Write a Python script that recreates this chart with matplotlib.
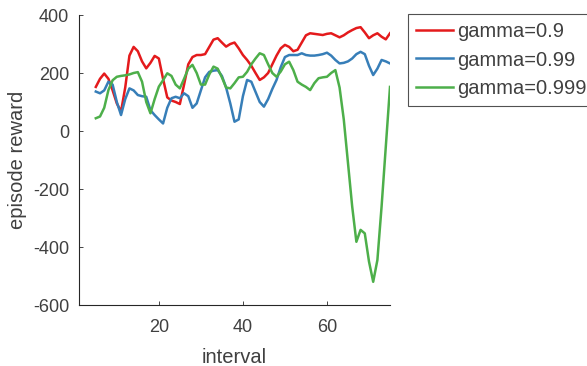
import matplotlib.pyplot as plt

plt.rcParams['font.family'] = ['Liberation Sans', 'DejaVu Sans']
plt.rcParams['axes.unicode_minus'] = False

interval = list(range(5, 76))

# episode reward for each discount factor
reward_09 = [152, 180, 198, 180, 140, 95, 67, 150, 260, 290,
             275, 240, 216, 235, 259, 250, 180, 116, 105, 100,
             93, 160, 230, 255, 262, 262, 265, 290, 315, 320,
             305, 291, 300, 305, 285, 262, 245, 225, 200, 176,
             185, 200, 230, 260, 285, 297, 290, 275, 280, 305,
             330, 337, 335, 333, 331, 335, 337, 330, 323, 330,
             340, 348, 355, 358, 340, 320, 330, 337, 325, 316,
             337]
reward_099 = [136, 130, 140, 170, 160, 100, 55, 110, 147, 140,
              124, 120, 118, 72, 55, 40, 26, 80, 113, 118,
              113, 130, 120, 80, 95, 140, 185, 204, 208, 210,
              190, 150, 95, 32, 40, 120, 176, 170, 135, 100,
              84, 110, 145, 176, 220, 255, 262, 262, 262, 268,
              262, 260, 260, 262, 265, 270, 260, 245, 233, 235,
              240, 250, 265, 273, 265, 225, 193, 215, 245, 240,
              233]
reward_0999 = [44, 50, 80, 141, 175, 187, 190, 192, 195, 200,
               203, 170, 100, 61, 110, 153, 175, 199, 190, 160,
               147, 180, 215, 228, 200, 160, 160, 195, 222, 215,
               185, 150, 147, 165, 185, 187, 204, 230, 250, 268,
               262, 230, 200, 187, 205, 230, 239, 210, 170, 160,
               152, 141, 165, 182, 185, 187, 200, 210, 150, 40,
               -110, -260, -382, -341, -353, -450, -520, -445, -260, -54,
               152]
labels = ['gamma=0.9', 'gamma=0.99', 'gamma=0.999']

txt = '#404040'

fig = plt.figure(figsize=(5.87, 3.66), dpi=100)
ax = fig.add_axes([79 / 587, 61 / 366, 311 / 587, 290 / 366])

ax.plot(interval, reward_09, color='#E41A1C', lw=1.8, label=labels[0])
ax.plot(interval, reward_099, color='#377EB8', lw=1.8, label=labels[1])
ax.plot(interval, reward_0999, color='#4DAF4A', lw=1.8, label=labels[2])

ax.set_xlim(1, 75)
ax.set_ylim(-600, 400)
ax.set_xticks([20, 40, 60])
ax.set_yticks([-600, -400, -200, 0, 200, 400])

for side in ['top', 'right']:
    ax.spines[side].set_visible(False)
for side in ['left', 'bottom']:
    ax.spines[side].set_color('#262626')
    ax.spines[side].set_linewidth(0.8)
ax.tick_params(direction='in', length=3, width=0.6, colors='#262626',
               labelsize=13, labelcolor=txt)
ax.tick_params(axis='y', pad=7)
ax.tick_params(axis='x', pad=10)

ax.set_xlabel('interval', fontsize=14.5, color=txt, labelpad=9)
ax.set_ylabel('episode reward', fontsize=14.5, color=txt, labelpad=4)

leg = fig.legend(loc='upper left', bbox_to_anchor=(408 / 587, 1 - 14 / 366),
                 fontsize=14.5, frameon=True, fancybox=False, edgecolor='#262626',
                 handlelength=1.85, handletextpad=0.2, labelspacing=0.47,
                 borderpad=0.4, borderaxespad=0)
leg.get_frame().set_linewidth(0.8)
for t in leg.get_texts():
    t.set_color(txt)

fig.savefig('out.png', dpi=100)
